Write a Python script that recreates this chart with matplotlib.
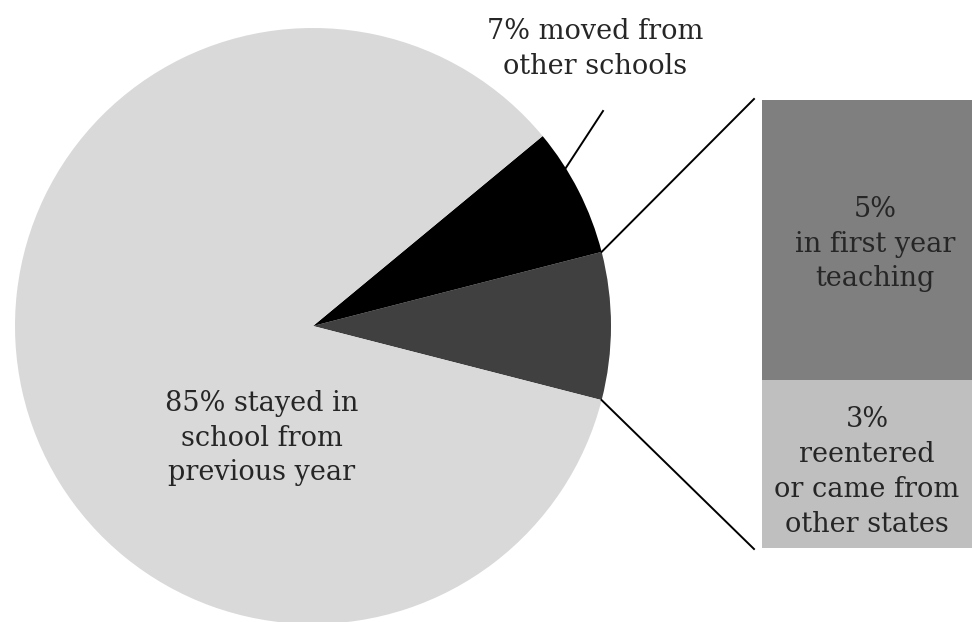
import numpy as np
import matplotlib.pyplot as plt
from matplotlib.patches import Rectangle

# main pie: share of teachers by where they were the previous year
pie_labels = ['new to school', 'moved from other schools', 'stayed in school']
pie_values = [8, 7, 85]
pie_colors = ['#404040', '#000000', '#d9d9d9']

# breakdown of the "new to school" wedge
bar_labels = ['3%\nreentered\nor came from\nother states', '5%\nin first year\nteaching']
bar_values = [3, 5]
bar_colors = ['#bfbfbf', '#7f7f7f']

TEXT = '#262626'
FONT = 'DejaVu Serif'
FS = 19.5
LS = 1.38

fig = plt.figure(figsize=(9.72, 6.22), dpi=100)
ax = fig.add_axes([0, 0, 1, 1])

cx, cy, r = 313, 296, 298
start = -pie_values[0] / 100 * 360 / 2
wedges, _ = ax.pie(pie_values, colors=pie_colors, startangle=start, counterclock=True,
                   center=(cx, cy), radius=r, frame=True,
                   wedgeprops=dict(linewidth=0))
ax.set_xlim(0, 972)
ax.set_ylim(0, 622)
ax.set_aspect('equal')
ax.axis('off')

# stacked bar for the exploded wedge
bx, bw, by, scale = 762, 210, 74, 56
bottom = by
for val, col in zip(bar_values, bar_colors):
    h = val * scale
    ax.add_patch(Rectangle((bx, bottom), bw, h, facecolor=col, edgecolor='none'))
    bottom += h

ax.text(bx + bw / 2, 150, bar_labels[0], ha='center', va='center',
        fontsize=FS, family=FONT, color=TEXT, linespacing=LS)
ax.text(bx + bw / 2 + 8, 378, bar_labels[1], ha='center', va='center',
        fontsize=FS, family=FONT, color=TEXT, linespacing=LS)

# connector lines from the wedge edges to the bar
a = np.deg2rad(start)
ax.plot([cx + r * np.cos(-a), 754], [cy + r * np.sin(-a), bottom + 1], color='black', lw=1.4)
ax.plot([cx + r * np.cos(a), 754], [cy + r * np.sin(a), by - 1], color='black', lw=1.4)

# leader line for the black wedge
a2 = np.deg2rad(32)
ax.plot([cx + r * np.cos(a2), 603], [cy + r * np.sin(a2), 511], color='black', lw=1.4)

ax.text(595, 573, '7% moved from\nother schools', ha='center', va='center',
        fontsize=FS, family=FONT, color=TEXT, linespacing=LS)
ax.text(262, 184, '85% stayed in\nschool from\nprevious year', ha='center', va='center',
        fontsize=FS, family=FONT, color=TEXT, linespacing=LS)

fig.savefig('out.png', dpi=100)
